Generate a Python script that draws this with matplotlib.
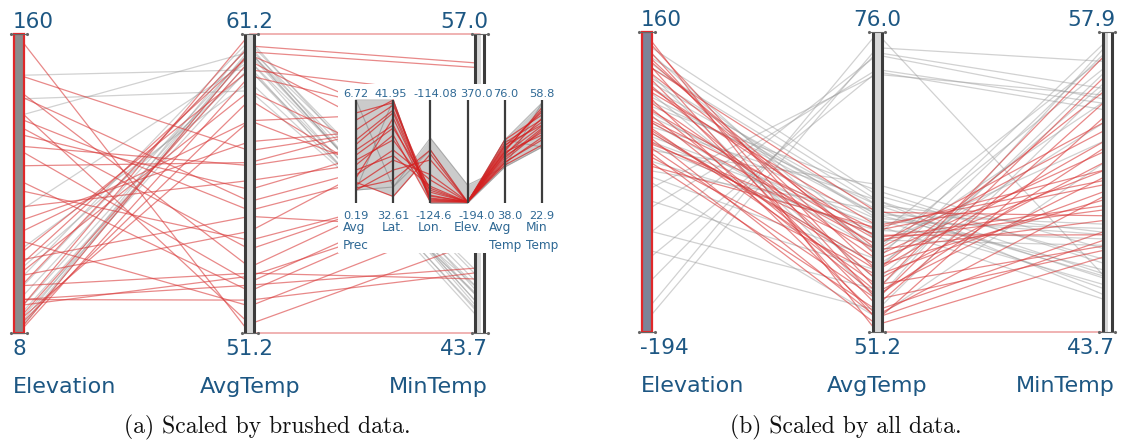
import matplotlib
matplotlib.use("Agg")
import matplotlib.pyplot as plt
from matplotlib.patches import Rectangle
import numpy as np

# ---- data -------------------------------------------------------------
dims = ["Elevation", "AvgTemp", "MinTemp"]

# (a) axes scaled by the brushed records only
a_lo = [8, 51.2, 43.7]
a_hi = [160, 61.2, 57.0]
a_top_labels = ["160", "61.2", "57.0"]
a_bottom_labels = ["8", "51.2", "43.7"]

a_red_elev = [158, 131, 128.5, 117, 113, 109, 103, 93, 72, 59, 48, 42, 38, 31, 25, 20, 15.6, 12,
              9.5, 8.5, 25, 32, 55, 37, 80.5, 65, 121, 139, 85.5, 14.5, 45, 22, 101]
a_red_avg = [51.2, 53.4, 55.6, 55.3, 54.0, 56.0, 56.8, 56.9, 56.3, 58.3, 60.0, 60.5, 59.3, 60.8,
             52.8, 61.2, 60.3, 59.0, 60.6, 59.8, 52.3, 53.2, 52.1, 54.6, 54.3, 57.6, 51.5, 57.3,
             52.6, 58.3, 55.1, 53.1, 52.9]
a_red_min = [43.7, 51.4, 52.3, 51.8, 50.9, 53.1, 52.7, 54.0, 52.0, 53.6, 54.2, 51.8, 49.6, 55.7,
             46.6, 57.0, 50.5, 47.8, 55.5, 52.7, 46.4, 46.1, 48.9, 53.6, 50.5, 53.1, 47.8, 53.4,
             50.0, 49.2, 48.3, 49.6, 50.5]

a_gray_elev = [139, 127, 118.5, 35, 30, 25, 20, 17, 14.5, 12, 10.5, 9.5, 40, 50, 70]
a_gray_avg = [60.0, 59.3, 60.6, 61.0, 60.8, 60.6, 60.5, 60.3, 60.1, 60.9, 60.7, 60.6, 60.0, 59.6, 60.3]
a_gray_min = [45.2, 45.6, 44.9, 45.4, 44.7, 45.8, 45.2, 44.5, 44.3, 46.1, 46.3, 44.9, 44.6, 45.3, 45.6]

# (b) axes scaled by all records
b_lo = [-194, 51.2, 43.7]
b_hi = [160, 76.0, 57.9]
b_top_labels = ["160", "76.0", "57.9"]
b_bottom_labels = ["-194", "51.2", "43.7"]

b_red_elev = [156, 150.5, 141, 133, 124.6, 115, 109, 101, 92, 86, 80, 70, 65.5, 58, 50, 44, 38.5,
              32.5, 26.5, 21, 15, 9, 3, 56, 97, 121, 74, 30, 129, 47]
b_red_avg = [51.2, 54.7, 53.9, 56.3, 52.2, 58.0, 53.4, 55.5, 60.0, 52.6, 57.2, 58.8, 54.2, 59.6,
             55.1, 56.7, 52.4, 58.0, 53.9, 51.8, 55.9, 53.0, 59.8, 58.4, 59.0, 61.1, 54.5, 59.2,
             57.5, 56.3]
b_red_min = [43.7, 56.9, 55.9, 55.2, 54.0, 53.3, 54.7, 51.8, 50.9, 50.2, 51.4, 49.5, 52.5, 50.7,
             47.8, 50.0, 48.1, 49.0, 47.6, 47.3, 50.4, 48.5, 51.4, 53.7, 49.7, 49.2, 51.1, 48.3,
             52.3, 52.8]

b_gray_elev = [145, 133, 121, 103, 86, 74, 62, 50, 32.5, 21, 9, -3, 127, 80, -26.5, -50, -80,
               -109, -138, -168, -180, -9, -38, 56, 92, -74, 115, -97, 44, 68, -14.5, 139, 26.5,
               97, 38.5, 109]
b_gray_avg = [62.5, 62.1, 61.7, 61.3, 60.9, 62.9, 60.5, 62.1, 60.0, 63.4, 59.6, 61.3, 58.8, 61.7,
              72.5, 72.9, 74.1, 72.7, 74.3, 75.9, 74.7, 57.2, 56.3, 58.0, 55.5, 54.7, 53.9, 53.0,
              56.7, 58.4, 52.4, 57.6, 59.2, 60.9, 60.3, 60.6]
b_gray_min = [47.1, 46.4, 46.2, 45.7, 46.6, 46.9, 45.9, 45.4, 45.2, 47.6, 48.1, 46.3, 47.8, 48.4,
              54.9, 54.5, 54.7, 54.2, 55.2, 46.2, 56.5, 57.5, 57.0, 56.3, 55.6, 56.1, 57.3, 55.4,
              53.7, 52.8, 51.8, 54.7, 56.8, 48.8, 48.6, 48.3]

# overview inset in (a)
in_dims = ["Avg\nPrec", "Lat.", "Lon.", "Elev.", "Avg\nTemp", "Min\nTemp"]
in_lo = [0.19, 32.61, -124.6, -194.0, 38.0, 22.9]
in_hi = [6.72, 41.95, -114.08, 370.0, 76.0, 58.8]
in_top_labels = ["6.72", "41.95", "-114.08", "370.0", "76.0", "58.8"]
in_bottom_labels = ["0.19", "32.61", "-124.6", "-194.0", "38.0", "22.9"]

in_gray_prec = [6.72, 1.01, 1.01, 6.72]
in_gray_lat = [41.95, 34.06, 41.95, 34.06]
in_gray_lon = [-124.6, -117.96, -124.6, -119.18]
in_gray_elev = [-194.0, -95.3, -194.0, -194.0]
in_gray_avg = [61.3, 51.3, 51.3, 61.3]
in_gray_min = [57.8, 42.4, 57.8, 42.4]

in_red_prec = [5.45, 4.19, 3.55, 2.91, 1.97, 1.33, 1.01, 1.14, 2.6, 1.78, 4.82, 3.23,
               2.28, 3.9, 1.5, 5.9]
in_red_lat = [41.95, 41.04, 39.68, 38.33, 37.42, 36.50, 35.60, 34.69, 38.77, 40.32, 41.49, 39.41,
              36.9, 40.8, 33.2, 41.7]
in_red_lon = [-124.3, -123.8, -124.1, -123.3, -122.25, -121.7, -120.2, -119.18, -124.5, -123.9,
              -123.5, -123.1, -122.9, -124.2, -119.6, -124.4]
in_red_elev = [-188, -190, -187, -189, -188, -186, -190, -188, -189, -187, -188, -190,
               -189, -187, -190, -188]
in_red_avg = [57.6, 55.7, 59.4, 53.8, 58.3, 56.8, 54.6, 53.1, 61.3, 52.0, 59.0, 55.3,
              56.2, 60.2, 52.8, 57.0]
in_red_min = [55.3, 52.5, 50.1, 48.4, 51.1, 46.6, 49.0, 44.9, 53.6, 43.1, 54.6, 47.6,
              49.8, 52.0, 45.8, 56.2]

# ---- style ------------------------------------------------------------
W, H = 1121, 443
LABEL = "#1d5783"
INSET_LABEL = "#2e6894"
RED = "#d93a3a"
GRAY = "#9a9a9a"
AXIS = "#3c3c3c"

fig = plt.figure(figsize=(W / 100, H / 100), dpi=100)
fig.patch.set_facecolor("white")


def px_axes(x0, y0, x1, y1, z=1):
    return fig.add_axes([x0 / W, 1 - y1 / H, (x1 - x0) / W, (y1 - y0) / H], zorder=z)


def to_unit(vals, lo, hi):
    return (np.asarray(vals, float) - lo) / (hi - lo)


def draw_panel(box, lo, hi, red_cols, gray_cols, top_lbls, bot_lbls, elev_face, caption, cap_x):
    x0, y0, x1, y1 = box
    ax = px_axes(x0, y0, x1, y1)
    ax.set_xlim(0, 2)
    ax.set_ylim(0, 1)
    ax.axis("off")
    u = 2 / (x1 - x0)   # one pixel along x
    v = 1 / (y1 - y0)   # one pixel along y
    xs = np.arange(3)

    for cols, color, alpha, z in ((gray_cols, GRAY, 0.45, 1), (red_cols, RED, 0.6, 2)):
        ys = np.column_stack([to_unit(c, lo[i], hi[i]) for i, c in enumerate(cols)])
        for row in ys:
            ax.plot(xs, row, color=color, lw=0.9, alpha=alpha, zorder=z, clip_on=False)

    # brushed elevation axis
    ax.add_patch(Rectangle((-5 * u, 0), 10 * u, 1, facecolor=elev_face,
                           edgecolor="#e0282a", lw=1.6, zorder=4, clip_on=False))
    # double line axes
    for xi in (1, 2):
        ax.fill_betweenx([0, 1], xi - 4 * u, xi + 4 * u, color="#d8d8d8", lw=0, zorder=3)
        for s in (-4.5, 4.5):
            ax.plot([xi + s * u] * 2, [0, 1], color=AXIS, lw=2.2, zorder=4,
                    solid_capstyle="butt", clip_on=False)
    for xi in range(3):
        for yy in (0, 1):
            ax.plot([xi - 8 * u, xi + 8 * u], [yy, yy], color="#666666", lw=0.8,
                    marker=".", ms=2.5, zorder=5, clip_on=False)

    has = ["left", "center", "right"]
    offs = [-6.5, 0, 8]
    for i in range(3):
        ax.text(i + offs[i] * u, 1 + 5.5 * v, top_lbls[i], ha=has[i], va="baseline",
                fontsize=15.5, color=LABEL)
        ax.text(i + offs[i] * u, -22 * v, bot_lbls[i], ha=has[i], va="baseline",
                fontsize=15.5, color=LABEL)
        ax.text(i + offs[i] * u, -60 * v, dims[i], ha=has[i], va="baseline",
                fontsize=16, color=LABEL)
    fig.text(cap_x / W, 1 - 433 / H, caption, ha="center", va="baseline",
             fontsize=17, family="cmr10", color="#111111")
    return ax


draw_panel((19.5, 34, 480, 333), a_lo, a_hi,
           [a_red_elev, a_red_avg, a_red_min], [a_gray_elev, a_gray_avg, a_gray_min],
           a_top_labels, a_bottom_labels, "#8c8c8c", "(a) Scaled by brushed data.", 267)
draw_panel((647, 32, 1107, 332), b_lo, b_hi,
           [b_red_elev, b_red_avg, b_red_min], [b_gray_elev, b_gray_avg, b_gray_min],
           b_top_labels, b_bottom_labels, "#7b8498", "(b) Scaled by all data.", 846)

# ---- inset overview ---------------------------------------------------
bx0, by0, bx1, by1 = 338, 84, 568, 253
ins = px_axes(bx0, by0, bx1, by1, z=5)
ins.set_facecolor("white")
for sp in ins.spines.values():
    sp.set_visible(False)
ins.set_xticks([])
ins.set_yticks([])
ux = 37.2          # px per inset axis step
uy = 103.0         # px per unit height
ins.set_xlim((bx0 - 356) / ux, (bx1 - 356) / ux)
ins.set_ylim((203 - by1) / uy, (203 - by0) / uy)

ix = np.arange(6)
gray_rows = np.column_stack([to_unit(c, in_lo[i], in_hi[i]) for i, c in enumerate(
    [in_gray_prec, in_gray_lat, in_gray_lon, in_gray_elev, in_gray_avg, in_gray_min])])
red_rows = np.column_stack([to_unit(c, in_lo[i], in_hi[i]) for i, c in enumerate(
    [in_red_prec, in_red_lat, in_red_lon, in_red_elev, in_red_avg, in_red_min])])
grid = np.linspace(0, 5, 600)
curves = np.array([np.interp(grid, ix, r) for r in np.vstack([gray_rows, red_rows])])
ins.fill_between(grid, curves.min(axis=0), curves.max(axis=0), color="#cbcbcb", lw=0, zorder=1)
for r in gray_rows:
    ins.plot(ix, r, color="#888888", lw=0.8, alpha=0.6, zorder=2)
for r in red_rows:
    ins.plot(ix, r, color="#d42020", lw=0.9, alpha=0.7, zorder=3)

top_shift = [0, -2, 5, 9, 1, 0]      # px nudges so the crowded labels sit as in the source
bot_shift = [0, 0, 3, 9, 5, 0]
for i in ix:
    ins.plot([i, i], [0, 1], color=AXIS, lw=1.6, zorder=4, solid_capstyle="butt")
    ins.text(i + top_shift[i] / ux, 1 + 3 / uy, in_top_labels[i], ha="center", va="baseline",
             fontsize=8.2, color=INSET_LABEL)
    ins.text(i + bot_shift[i] / ux, -16 / uy, in_bottom_labels[i], ha="center", va="baseline",
             fontsize=8.2, color=INSET_LABEL)
    ins.text(i, -18 / uy, in_dims[i], ha="center", va="top", multialignment="left",
             fontsize=8.7, color=INSET_LABEL, linespacing=1.5)

fig.savefig("out.png", dpi=100, facecolor="white")
